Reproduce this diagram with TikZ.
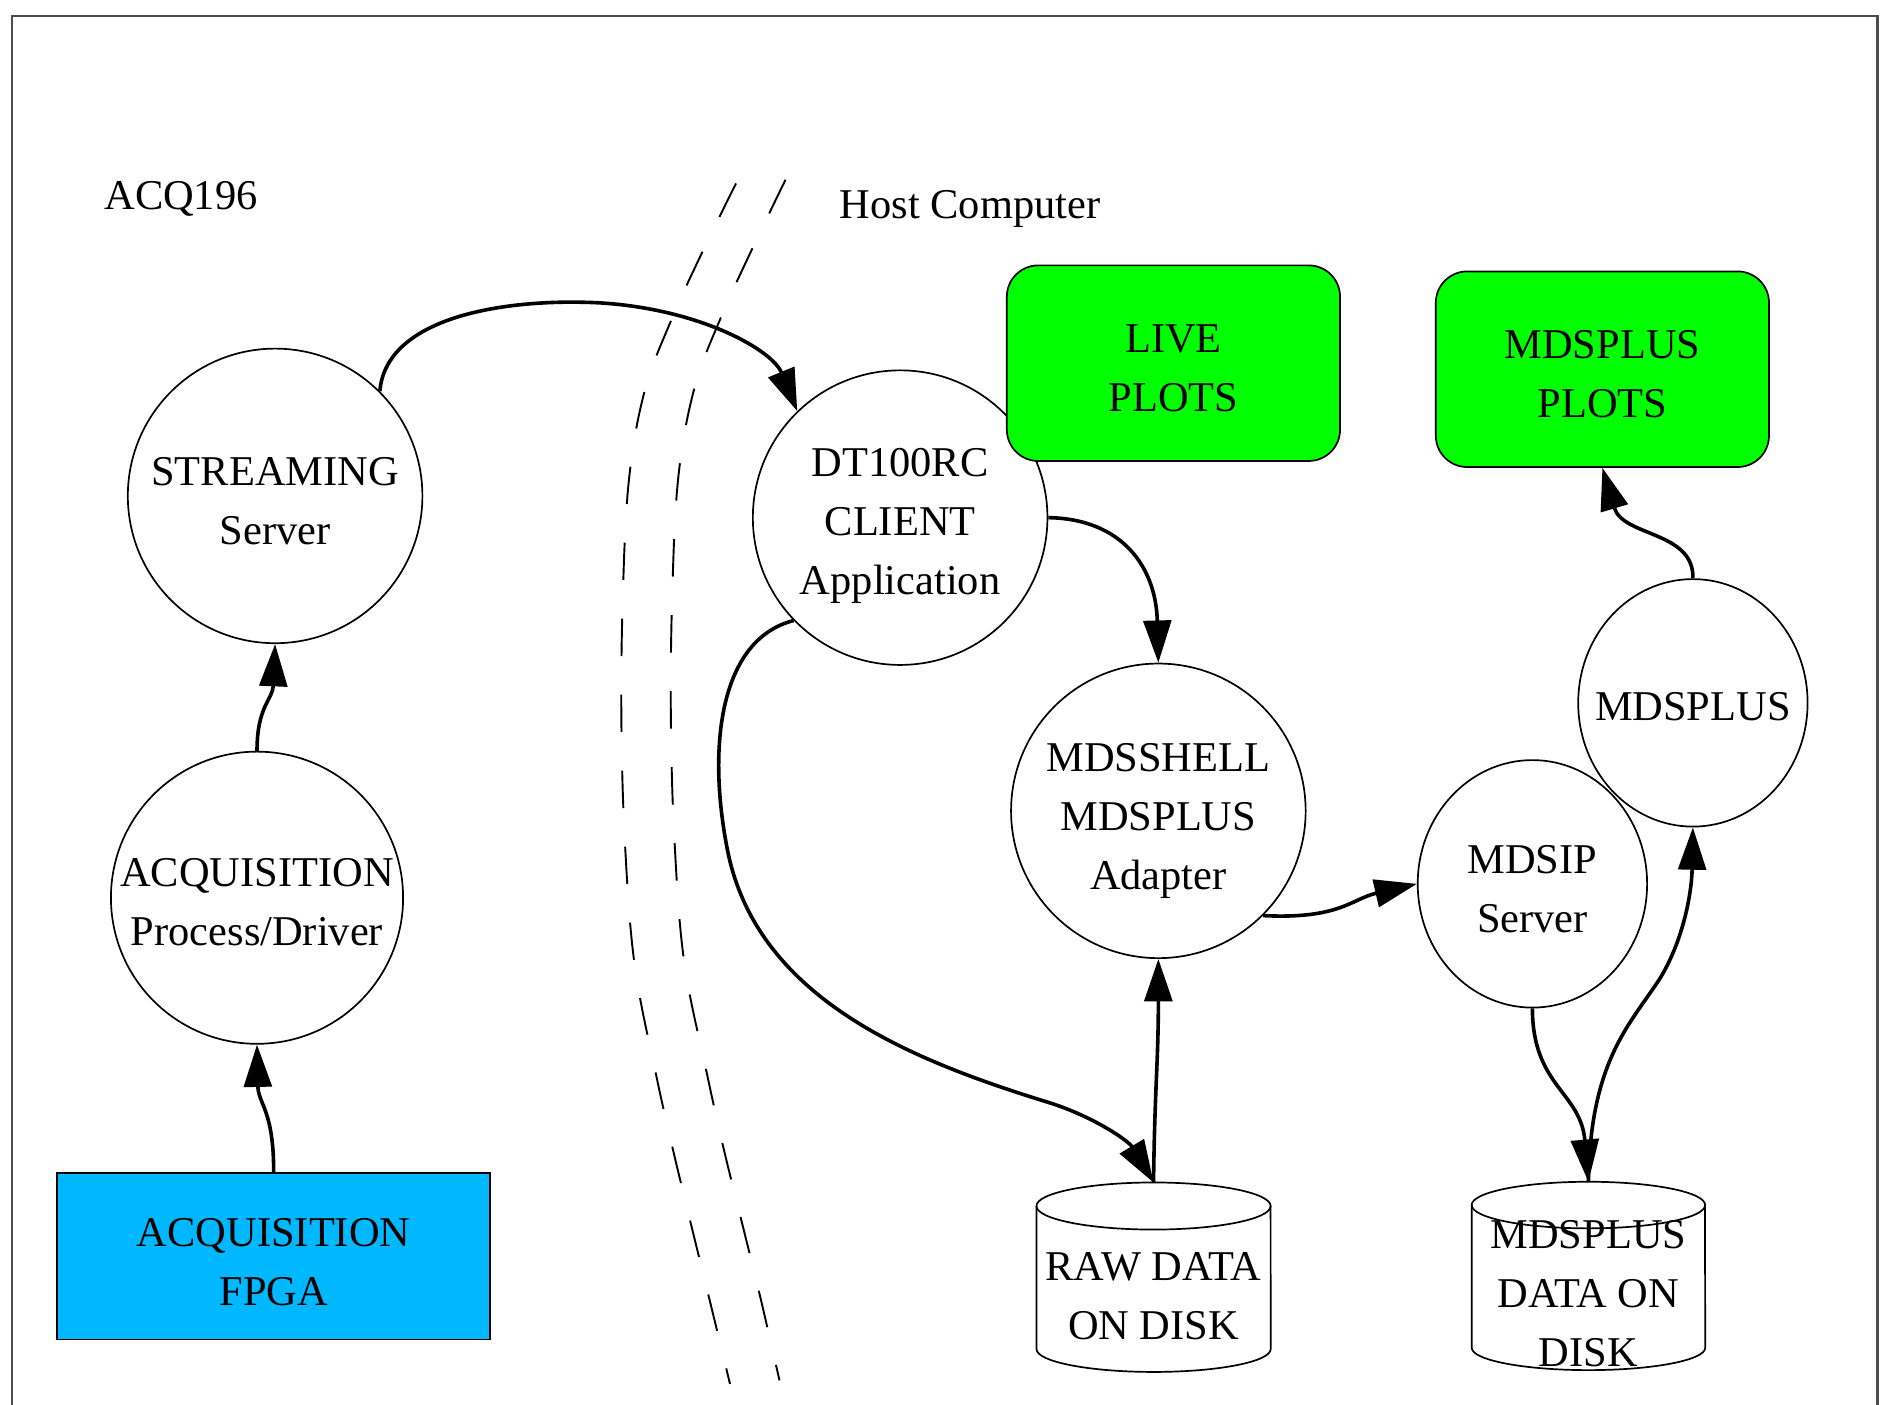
\documentclass[tikz,border=0pt]{standalone}
\usepackage{fontspec}
\setmainfont{Liberation Serif}
\usetikzlibrary{arrows.meta,shapes.geometric}
\definecolor{fpgablue}{RGB}{0,184,255}
\definecolor{plotgreen}{RGB}{0,255,0}
\begin{document}
\begin{tikzpicture}[x=0.01cm,y=-0.01cm,
  every node/.style={font=\fontsize{10}{13.9}\selectfont, align=center, inner sep=0pt},
  proc/.style={circle, draw, line width=0.4pt, minimum size=2.44cm},
  oval/.style={ellipse, draw, line width=0.4pt, minimum width=1.90cm, minimum height=2.05cm},
  plotbox/.style={rectangle, rounded corners=0.26cm, draw, fill=plotgreen, line width=0.4pt, minimum width=2.76cm, minimum height=1.62cm},
  flow/.style={line width=0.85pt, -{Triangle[length=3.5mm,width=2.3mm]}},
  sepline/.style={line width=0.45pt, dash pattern=on 0.31cm off 0.32cm},
  disk/.style={line width=0.4pt}
]
\useasboundingbox (0,0) rectangle (1568,1164);
\draw[line width=0.5pt, black!70] (10,1164) -- (10,13) -- (1556,13) -- (1556,1164);

% separator lines
\draw[sepline] plot[smooth, tension=0.6] coordinates {(610,152)(582,209)(556,266)(534,325)(521,400)(516,500)(515,600)(518,700)(526,800)(544,892)(558,954)(573,1016)(588,1077)(605,1147)};
\draw[sepline] plot[smooth, tension=0.6] coordinates {(651,149)(623.5,206)(597.5,263)(575.4,322)(562,397)(557,497)(556,597)(559,697)(567,797)(585.7,889)(599.5,951)(614.7,1012.5)(630,1074.6)(646,1144)};

\node (acq196) at (150,165) {ACQ196};
\node (host) at (804,173) {Host Computer};

% shapes
\node[proc] (stream) at (228,411) {};
\node[proc, minimum size=2.42cm] (acq) at (213,744) {};
\node[draw, fill=fpgablue, minimum width=3.585cm, minimum height=1.376cm, line width=0.4pt] (fpga) at (226.8,1041.2) {};
\node[proc] (dt) at (746,429) {};
\node[plotbox] (live) at (972.5,301) {};
\node[plotbox] (mplots) at (1328,306) {};
\node[proc] (shell) at (960,672) {};
\node[oval] (mdsip) at (1270,732.5) {};
\node[oval] (mdsplus) at (1403,582.5) {};

% texts
\node (stream-t) at (228,415) {STREAMING\\Server};
\node (acq-t) at (213,748) {ACQUISITION\\Process/Driver};
\node (fpga-t) at (226.8,1046) {ACQUISITION\\FPGA};
\node (dt-t) at (746,436) {DT100RC\\CLIENT\\Application};
\node (live-t) at (972.5,305) {LIVE\\PLOTS};
\node (mplots-t) at (1328,310) {MDSPLUS\\PLOTS};
\node (shell-t) at (960,680) {MDSSHELL\\MDSPLUS\\Adapter};
\node (mdsip-t) at (1270,736.5) {MDSIP\\Server};
\node (mdsplus-t) at (1403,585.5) {MDSPLUS};

% raw data disk
\draw[disk] (859,999.5) -- (859,1118) arc[start angle=180, end angle=360, x radius=0.97cm, y radius=0.19cm] -- (1053,999.5);
\draw[disk] (956,999.5) ellipse [x radius=0.97cm, y radius=0.195cm];
\node (raw) at (956,1074) {RAW DATA\\ON DISK};
\coordinate (rawtop) at (956,980);

% mdsplus data disk
\draw[disk] (1219.7,998.7) -- (1219.7,1117) arc[start angle=180, end angle=360, x radius=0.967cm, y radius=0.185cm] -- (1413,998.7);
\draw[disk] (1316.4,998.7) ellipse [x radius=0.967cm, y radius=0.193cm];
\node (mdisk) at (1316.4,1072) {MDSPLUS\\DATA ON\\DISK};
\coordinate (mdisktop) at (1316.4,979.4);

% connectors
\draw[flow] (stream.45) .. controls (320,262) and (420,247) .. (497,251) .. controls (580,256) and (640,290) .. (dt.134);
\draw[flow] (acq.north) .. controls (213,585) and (226,580) .. (stream.south);
\draw[flow] (fpga.north) .. controls (227,920) and (214,915) .. (acq.south);
\draw[flow] (dt.east) .. controls (930,430) and (958,470) .. (shell.north);
\draw[flow] (dt.224) .. controls (596,530) and (586,620) .. (603,705) .. controls (628,830) and (760,880) .. (870,914) .. controls (905,925) and (935,945) .. (rawtop);
\draw[flow] (rawtop) .. controls (957,900) and (960,880) .. (shell.south);
\draw[flow] (shell.-45) .. controls (1110,762) and (1120,745) .. (mdsip.west);
\draw[flow] (mdsip.south) .. controls (1270,900) and (1310,905) .. (mdisktop);
\draw[flow] (mdisktop) .. controls (1318,880) and (1350,850) .. (1375,812) .. controls (1395,780) and (1402,740) .. (mdsplus.south);
\draw[flow] (mdsplus.north) .. controls (1404,440) and (1345,445) .. (mplots.south);
\end{tikzpicture}
\end{document}
